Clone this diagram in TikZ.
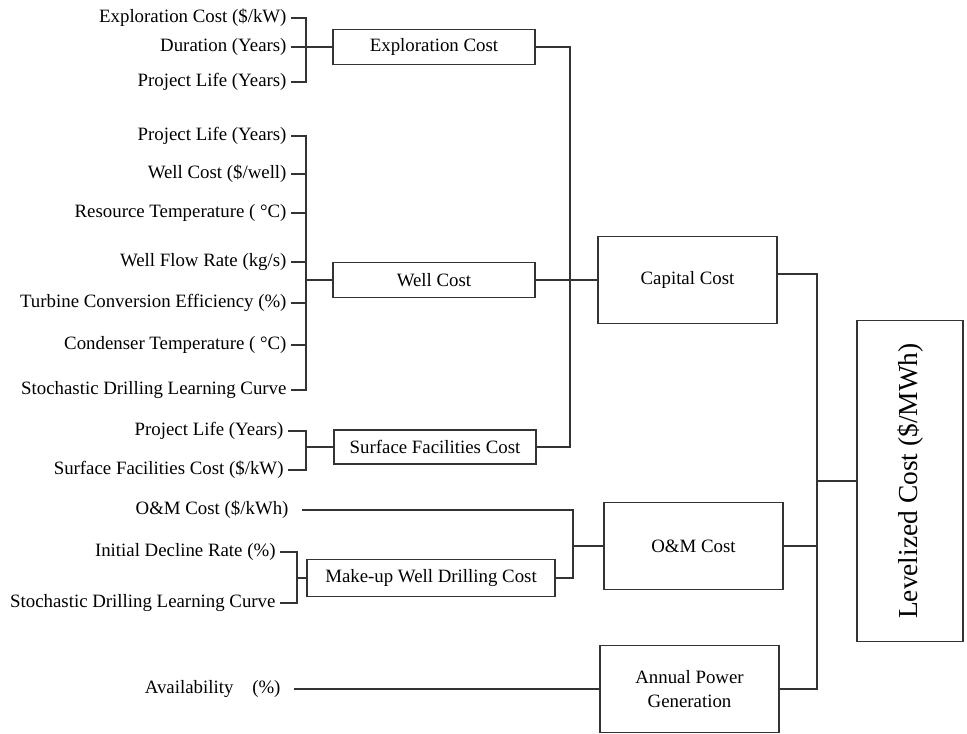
\documentclass[tikz,border=0pt]{standalone}
\usepackage{fontspec}
\setmainfont{Liberation Serif}

\tikzset{
  costbox/.style={draw=black!80, line width=1pt, inner sep=2pt, align=center,
    font=\fontsize{13.4}{17}\selectfont},
  inlabel/.style={anchor=east, inner sep=3pt, font=\fontsize{13.4}{17}\selectfont},
  wire/.style={draw=black!80, line width=1pt},
}

\begin{document}
\begin{tikzpicture}[x=0.025cm, y=-0.025cm]
            \useasboundingbox (0,0) rectangle (967,734);

            % Exploration cost inputs
            \node[inlabel] (exA) at (291,18) {Exploration Cost (\$/kW)};
            \node[inlabel] (exB) at (291,47) {Duration (Years)};
            \node[inlabel] (exC) at (291,82) {Project Life (Years)};
            \coordinate (exJ) at (306,47);
            \node[costbox, minimum width=5.05cm, minimum height=0.875cm] (explo) at (434,47) {Exploration Cost};
            \draw[wire] (exA.east) -| (exJ);
            \draw[wire] (exC.east) -| (exJ);
            \draw[wire] (exB.east) -- (exJ) -- (explo.west);

            % Well cost inputs
            \node[inlabel] (wcA) at (291,136) {Project Life (Years)};
            \node[inlabel] (wcB) at (291,174) {Well Cost (\$/well)};
            \node[inlabel] (wcC) at (291,213) {Resource Temperature ( °C)};
            \node[inlabel] (wcD) at (291,262) {Well Flow Rate (kg/s)};
            \node[inlabel] (wcE) at (291,303) {Turbine Conversion Efficiency (\%)};
            \node[inlabel] (wcF) at (291,345) {Condenser Temperature ( °C)};
            \node[inlabel] (wcG) at (291,390) {Stochastic Drilling Learning Curve};
            \coordinate (wcJ) at (306,280);
            \node[costbox, minimum width=5.05cm, minimum height=0.875cm] (well) at (434,280) {Well Cost};
            \draw[wire] (wcA.east) -| (wcJ);
            \draw[wire] (wcB.east) -| (wcJ);
            \draw[wire] (wcC.east) -| (wcJ);
            \draw[wire] (wcD.east) -| (wcJ);
            \draw[wire] (wcE.east) -| (wcJ);
            \draw[wire] (wcF.east) -| (wcJ);
            \draw[wire] (wcG.east) -| (wcJ);
            \draw[wire] (wcJ) -- (well.west);

            % Surface facilities inputs
            \node[inlabel] (sfA) at (288,431) {Project Life (Years)};
            \node[inlabel] (sfB) at (288,470) {Surface Facilities Cost (\$/kW)};
            \coordinate (sfJ) at (306,447);
            \node[costbox, minimum width=5.05cm, minimum height=0.85cm] (surf) at (435,447) {Surface Facilities Cost};
            \draw[wire] (sfA.east) -| (sfJ);
            \draw[wire] (sfB.east) -| (sfJ);
            \draw[wire] (sfJ) -- (surf.west);

            % Capital cost
            \node[costbox, minimum width=4.475cm, minimum height=2.175cm] (capital) at (687.5,280) {Capital Cost};
            \coordinate (capJ) at (570,280);
            \draw[wire] (explo.east) -| (capJ);
            \draw[wire] (surf.east) -| (capJ);
            \draw[wire] (well.east) -- (capital.west);

            % O&M cost inputs
            \node[inlabel] (omA) at (293,510) {O\&M Cost (\$/kWh)};
            \node[inlabel] (muA) at (280,552) {Initial Decline Rate (\%)};
            \node[inlabel] (muB) at (280,603) {Stochastic Drilling Learning Curve};
            \coordinate (muJ) at (297,578);
            \node[costbox, minimum width=6.2cm, minimum height=0.925cm] (makeup) at (431,578) {Make-up Well Drilling Cost};
            \draw[wire] (muA.east) -| (muJ);
            \draw[wire] (muB.east) -| (muJ);
            \draw[wire] (muJ) -- (makeup.west);

            % O&M cost
            \node[costbox, minimum width=4.475cm, minimum height=2.175cm] (om) at (693.5,546) {O\&M Cost};
            \coordinate (omJ) at (573,546);
            \draw[wire, shorten <=0.225cm] (omA.east) -| (omJ);
            \draw[wire] (makeup.east) -| (omJ);
            \draw[wire] (omJ) -- (om.west);

            % Annual power generation
            \node[inlabel] (avail) at (285,689) {Availability\quad(\%)};
            \node[costbox, minimum width=4.475cm, minimum height=2.175cm] (power) at (689.5,689) {Annual Power\\Generation};
            \draw[wire, shorten <=0.225cm] (avail.east) -- (power.west);

            % Levelized cost
            \node[costbox, minimum width=2.65cm, minimum height=8.025cm,
                  font=\fontsize{19.5}{23}\selectfont] (lcoe) at (910,481) {\rotatebox{90}{Levelized Cost (\$/MWh)}};
            \coordinate (lcJ) at (817,481);
            \draw[wire] ([yshift=0.15cm]capital.east) -| (lcJ);
            \draw[wire] (om.east) -| (lcJ);
            \draw[wire] (power.east) -| (lcJ);
            \draw[wire] (lcJ) -- (lcoe.west);
        \end{tikzpicture}
\end{document}
